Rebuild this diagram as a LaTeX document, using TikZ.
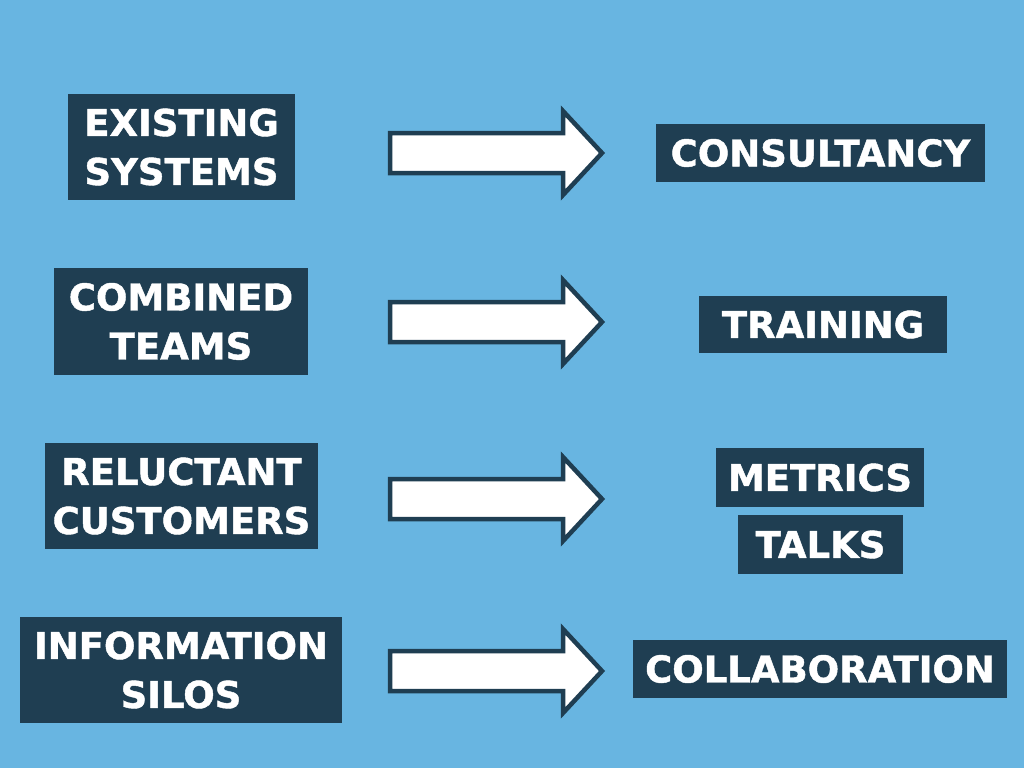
\documentclass[tikz,border=0pt]{standalone}
\usepackage{fontspec}
\setmainfont{DejaVu Sans}[BoldFeatures={FakeBold=1.2}]
\definecolor{bg}{HTML}{68B5E1}
\definecolor{dk}{HTML}{1F3E52}
\begin{document}
\begin{tikzpicture}[x=1pt,y=-1pt,
  box/.style={fill=dk,text=white,font=\bfseries\fontsize{37}{49}\selectfont,align=center,inner sep=0pt,anchor=center},
  bigarrow/.style={fill=white,draw=dk,line width=4.5pt,line join=miter}]
\fill[bg] (0,0) rectangle (1024,768);
\useasboundingbox (0,0) rectangle (1024,768);
% left boxes
\node[box,minimum width=227pt,minimum height=106pt] (l1) at (181.5,147) {EXISTING\\SYSTEMS};
\node[box,minimum width=254pt,minimum height=107pt] (l2) at (181,321.5) {COMBINED\\TEAMS};
\node[box,minimum width=273pt,minimum height=106pt] (l3) at (181.5,496) {RELUCTANT\\CUSTOMERS};
\node[box,minimum width=322pt,minimum height=106pt] (l4) at (181,670) {INFORMATION\\SILOS};
% right boxes
\node[box,minimum width=329pt,minimum height=58pt] (r1) at (820.5,153) {CONSULTANCY};
\node[box,minimum width=248pt,minimum height=57pt] (r2) at (823,324.5) {TRAINING};
\node[box,minimum width=208pt,minimum height=59pt] (r3) at (820,477.5) {METRICS};
\node[box,minimum width=165pt,minimum height=59pt] (r3b) at (820.5,544.5) {TALKS};
\node[box,minimum width=374pt,minimum height=58pt] (r4) at (820,669) {COLLABORATION};
% arrows
\foreach \y/\n in {153/a1,322/a2,499/a3,671/a4}{
  \coordinate (\n) at (495,\y);
  \draw[bigarrow] ([shift={(-105,-20)}]\n) -- ([shift={(68,-20)}]\n) -- ([shift={(68,-42)}]\n)
     -- ([shift={(107,0)}]\n) -- ([shift={(68,42)}]\n) -- ([shift={(68,20)}]\n)
     -- ([shift={(-105,20)}]\n) -- cycle;
}
\end{tikzpicture}
\end{document}
